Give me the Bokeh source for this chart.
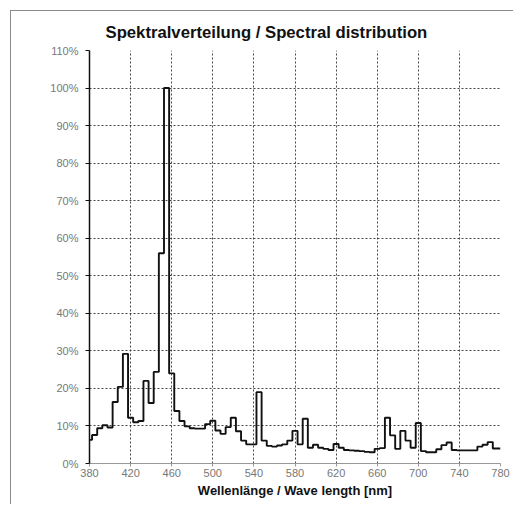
from bokeh.plotting import figure
from bokeh.models import FixedTicker, PrintfTickFormatter, Range1d, ColumnDataSource
from bokeh.embed import file_html
from bokeh.resources import INLINE

# Wavelength samples (nm) and relative intensity (%)
wavelength = [380, 385, 390, 395, 400, 405, 410, 415, 420, 425,
              430, 435, 440, 445, 450, 455, 460, 465, 470, 475,
              480, 485, 490, 495, 500, 505, 510, 515, 520, 525,
              530, 535, 540, 545, 550, 555, 560, 565, 570, 575,
              580, 585, 590, 595, 600, 605, 610, 615, 620, 625,
              630, 635, 640, 645, 650, 655, 660, 665, 670, 675,
              680, 685, 690, 695, 700, 705, 710, 715, 720, 725,
              730, 735, 740, 745, 750, 755, 760, 765, 770, 775, 780]
intensity = [6.3, 7.6, 9.4, 10.2, 9.6, 16.4, 20.4, 29.2, 12.2, 11.0,
             11.3, 22.0, 16.1, 24.4, 56.0, 100.0, 24.0, 14.0, 11.3, 9.9,
             9.4, 9.3, 9.3, 10.5, 11.4, 8.8, 7.9, 9.7, 12.2, 8.6,
             6.1, 5.1, 5.1, 19.0, 6.1, 4.7, 4.5, 4.8, 5.1, 6.1,
             8.7, 5.1, 11.9, 4.2, 5.0, 4.2, 3.9, 3.6, 5.2, 4.2,
             3.6, 3.5, 3.4, 3.3, 3.1, 3.0, 3.9, 4.1, 12.2, 7.5,
             3.9, 8.7, 6.1, 4.2, 10.8, 3.3, 3.0, 3.0, 3.8, 4.9,
             5.6, 3.6, 3.5, 3.5, 3.5, 3.5, 4.5, 5.0, 5.7, 4.0, 4.0]

x_ticks = [380, 420, 460, 500, 540, 580, 620, 660, 700, 740, 780]
y_ticks = [0, 10, 20, 30, 40, 50, 60, 70, 80, 90, 100, 110]

title_text = "Spektralverteilung / Spectral distribution"
x_title = "Wellenlänge / Wave length [nm]"

src = ColumnDataSource(data=dict(wavelength=wavelength, intensity=intensity))

p = figure(width=503, height=494, output_backend="svg", toolbar_location=None,
           x_range=Range1d(380, 780), y_range=Range1d(0, 110),
           min_border_left=78, min_border_right=14, min_border_top=39,
           min_border_bottom=42)
p.margin = (10, 0, 0, 10)
p.styles = {"border-left": "1px solid #8a8a8a", "border-top": "1px solid #8a8a8a"}

p.title.text = title_text
p.title.align = "left"
p.title.offset = 16
p.title.text_font = "Liberation Sans"
p.title.text_font_size = "16.7px"
p.title.text_font_style = "bold"
p.title.text_color = "#111111"
p.title.standoff = 18

p.step(x="wavelength", y="intensity", source=src, mode="center",
       line_color="#111111", line_width=1.9)

p.outline_line_color = None
p.background_fill_color = "white"
p.border_fill_color = "white"

# grids
for g in (p.xgrid, p.ygrid):
    g.grid_line_color = "#333333"
    g.grid_line_dash = "2 2"
    g.grid_line_width = 1
    g.grid_line_alpha = 0.9

# x axis
p.xaxis.ticker = FixedTicker(ticks=x_ticks)
p.xaxis.axis_label = x_title
p.xaxis.axis_label_text_font = "Liberation Sans"
p.xaxis.axis_label_text_font_size = "13px"
p.xaxis.axis_label_text_font_style = "bold"
p.xaxis.axis_label_text_color = "#111111"
p.xaxis.axis_label_standoff = 3
p.xaxis.major_label_text_font = "Liberation Sans"
p.xaxis.major_label_text_font_size = "11px"
p.xaxis.major_label_text_color = "#777777"
p.xaxis.major_label_standoff = 2
p.xaxis.axis_line_color = "#999999"
p.xaxis.major_tick_line_color = "#999999"
p.xaxis.major_tick_out = 3
p.xaxis.major_tick_in = 0
p.xaxis.minor_tick_line_color = None

# y axis
p.yaxis.ticker = FixedTicker(ticks=y_ticks)
p.yaxis.formatter = PrintfTickFormatter(format="%d%%")
p.yaxis.major_label_text_font = "Liberation Sans"
p.yaxis.major_label_text_font_size = "11px"
p.yaxis.major_label_text_color = "#777777"
p.yaxis.major_label_standoff = 7
p.yaxis.axis_line_color = "#111111"
p.yaxis.axis_line_width = 1.5
p.yaxis.major_tick_line_color = "#111111"
p.yaxis.major_tick_out = 4
p.yaxis.major_tick_in = 0
p.yaxis.minor_tick_line_color = None

open("out.html", "w").write(file_html(p, INLINE))
